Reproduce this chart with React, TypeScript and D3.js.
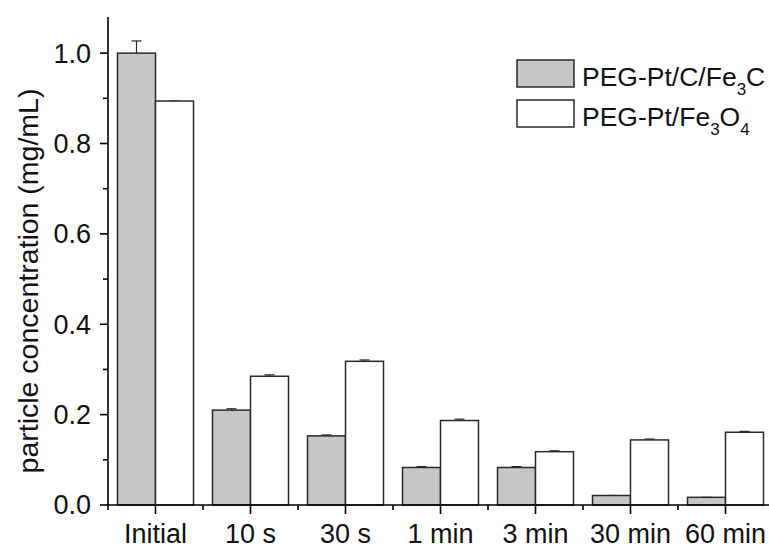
import React, { useEffect, useRef } from "react";
import * as d3 from "d3";

const categories = ["Initial", "10 s", "30 s", "1 min", "3 min", "30 min", "60 min"];
const fe3cValues = [1.0, 0.21, 0.153, 0.083, 0.083, 0.021, 0.017];
const fe3cErrors = [0.027, 0.003, 0.002, 0.002, 0.002, 0, 0];
const fe3o4Values = [0.894, 0.285, 0.318, 0.187, 0.118, 0.144, 0.161];
const fe3o4Errors = [0, 0.003, 0.003, 0.003, 0.002, 0.002, 0.002];
const yTicks = [0.0, 0.2, 0.4, 0.6, 0.8, 1.0];
const yMinorTicks = [0.1, 0.3, 0.5, 0.7, 0.9];

const W = 769;
const H = 548;
const FONT = "'Liberation Sans', Arial, sans-serif";

export default function App() {
  const ref = useRef<SVGSVGElement>(null);

  useEffect(() => {
    const svg = d3.select(ref.current);
    svg.selectAll("*").remove();

    const x0 = 108;
    const step = 95;
    const x = d3
      .scaleBand<string>()
      .domain(categories)
      .range([x0, x0 + step * categories.length])
      .padding(0);
    const sub = d3
      .scaleBand<string>()
      .domain(["a", "b"])
      .range([0, x.bandwidth()])
      .paddingInner(0)
      .paddingOuter(0.25);
    const y = d3.scaleLinear().domain([0, 1.08]).range([505, 17]);

    const series = [
      { key: "a", values: fe3cValues, errors: fe3cErrors, fill: "#c6c6c6" },
      { key: "b", values: fe3o4Values, errors: fe3o4Errors, fill: "#ffffff" },
    ];

    const stroke = "#2a2a2a";

    series.forEach((s) => {
      const g = svg.append("g");
      categories.forEach((c, i) => {
        const bx = (x(c) as number) + (sub(s.key) as number);
        const bw = sub.bandwidth();
        const v = s.values[i];
        // error bar (upper half only)
        const cx = bx + bw / 2;
        g.append("line")
          .attr("x1", cx)
          .attr("x2", cx)
          .attr("y1", y(v))
          .attr("y2", y(v + s.errors[i]))
          .attr("stroke", stroke)
          .attr("stroke-width", 1.2);
        g.append("line")
          .attr("x1", cx - 5)
          .attr("x2", cx + 5)
          .attr("y1", y(v + s.errors[i]))
          .attr("y2", y(v + s.errors[i]))
          .attr("stroke", stroke)
          .attr("stroke-width", 1.2);
        g.append("rect")
          .attr("x", bx)
          .attr("y", y(v))
          .attr("width", bw)
          .attr("height", y(0) - y(v))
          .attr("fill", s.fill)
          .attr("stroke", stroke)
          .attr("stroke-width", 1.5);
      });
    });

    // axes
    const axisG = svg.append("g").attr("stroke", "#000").attr("stroke-width", 1.6);
    axisG.append("line").attr("x1", x0).attr("x2", x0).attr("y1", 17).attr("y2", y(0));
    axisG
      .append("line")
      .attr("x1", x0 - 1)
      .attr("x2", x0 + step * categories.length)
      .attr("y1", y(0))
      .attr("y2", y(0));

    yTicks.forEach((t) => {
      axisG.append("line").attr("x1", x0 - 8).attr("x2", x0).attr("y1", y(t)).attr("y2", y(t));
    });
    yMinorTicks.forEach((t) => {
      axisG.append("line").attr("x1", x0 - 5).attr("x2", x0).attr("y1", y(t)).attr("y2", y(t));
    });
    categories.forEach((c) => {
      const cx = (x(c) as number) + x.bandwidth() / 2;
      axisG.append("line").attr("x1", cx).attr("x2", cx).attr("y1", y(0)).attr("y2", y(0) + 9);
    });
    categories.forEach((c, i) => {
      const bx = x0 + step * i;
      axisG.append("line").attr("x1", bx).attr("x2", bx).attr("y1", y(0)).attr("y2", y(0) + 5);
    });

    const text = svg.append("g").attr("font-family", FONT).attr("fill", "#111");
    yTicks.forEach((t) => {
      text
        .append("text")
        .attr("x", 91)
        .attr("y", y(t))
        .attr("dy", "0.35em")
        .attr("text-anchor", "end")
        .attr("font-size", 27)
        .text(t.toFixed(1));
    });
    categories.forEach((c) => {
      text
        .append("text")
        .attr("x", (x(c) as number) + x.bandwidth() / 2)
        .attr("y", 543)
        .attr("text-anchor", "middle")
        .attr("font-size", 27)
        .text(c);
    });
    text
      .append("text")
      .attr("transform", `translate(38, ${(90 + 472) / 2}) rotate(-90)`)
      .attr("text-anchor", "middle")
      .attr("font-size", 28.5)
      .text("particle concentration (mg/mL)");

    // legend
    const legend = [
      { fill: "#c6c6c6", parts: [["PEG-Pt/C/Fe", false], ["3", true], ["C", false]] },
      { fill: "#ffffff", parts: [["PEG-Pt/Fe", false], ["3", true], ["O", false], ["4", true]] },
    ] as { fill: string; parts: [string, boolean][] }[];
    legend.forEach((l, i) => {
      const top = 60 + i * 40;
      svg
        .append("rect")
        .attr("x", 517)
        .attr("y", top)
        .attr("width", 57)
        .attr("height", 27)
        .attr("fill", l.fill)
        .attr("stroke", stroke)
        .attr("stroke-width", 1.5);
      const t = text
        .append("text")
        .attr("x", 582)
        .attr("y", top + 26)
        .attr("font-size", 26.5);
      let shifted = false;
      l.parts.forEach(([s, isSub]) => {
        const span = t.append("tspan").text(s);
        if (isSub && !shifted) {
          span.attr("dy", 9).attr("font-size", 17);
          shifted = true;
        } else if (!isSub && shifted) {
          span.attr("dy", -9);
          shifted = false;
        } else if (isSub) {
          span.attr("font-size", 17);
        }
      });
    });
  }, []);

  return (
    <svg
      ref={ref}
      width={W}
      height={H}
      style={{ position: "absolute", left: 0, top: 0, background: "#fff" }}
    />
  );
}
